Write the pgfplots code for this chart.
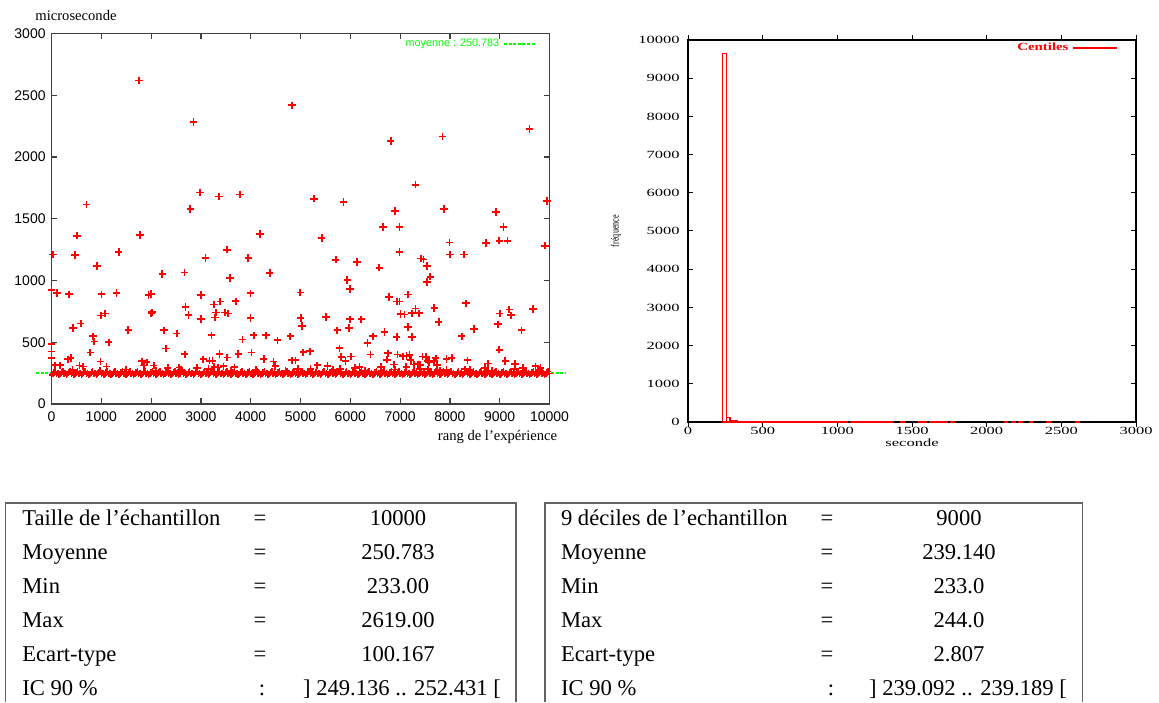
\documentclass[border=0pt]{standalone}
\usepackage{fontspec}
\setmainfont{Liberation Serif}
\setsansfont{Liberation Sans}
\newfontfamily\widefont{Liberation Serif}[FakeStretch=1.5]
\newfontfamily\widebold{Liberation Serif}[FakeStretch=1.35]
\newfontfamily\narrowfont{Liberation Serif}[FakeStretch=0.74]
\usepackage{pgfplots}
\pgfplotsset{compat=1.18}
\definecolor{gred}{RGB}{255,0,0}
\definecolor{ggreen}{RGB}{0,255,0}
\definecolor{boxgray}{RGB}{100,100,100}

\pgfplotstableread{
x y
1757 2619
4833 2419
2854 2284
9600 2227
6813 2130
7850 2165
7309 1776
2980 1713
3788 1697
3366 1681
5271 1662
5864 1635
704 1616
9948 1643
2787 1578
7880 1578
6895 1562
8925 1554
6657 1432
6990 1432
9074 1432
1779 1370
511 1362
4188 1376
5426 1343
8725 1305
7991 1308
8992 1322
9155 1322
9911 1281
30 1211
474 1205
1349 1230
3521 1249
6990 1230
7999 1211
8280 1211
3091 1181
3951 1181
5708 1168
6138 1151
7420 1178
7472 1170
912 1116
7539 1116
2224 1054
2669 1065
4381 1062
3588 1019
6583 1103
7605 1030
7539 989
5938 1003
0 924
111 900
348 889
1001 889
1305 900
1950 881
2002 892
3002 884
3996 897
4996 903
5990 930
6776 868
7161 886
3262 805
3388 830
3699 832
6931 830
6990 830
8325 816
2691 786
7309 773
7687 778
9192 765
9667 768
993 716
1075 732
2002 732
2017 743
3306 741
3484 741
3543 732
2750 722
7005 730
7087 724
7235 735
7383 735
9000 732
9229 719
3284 700
3002 689
3996 695
5004 695
5508 705
5997 686
6220 686
7776 665
586 651
8962 646
5026 630
7161 624
430 614
1542 600
2261 597
5738 597
5975 614
6687 584
8480 608
9437 597
2513 570
3210 557
830 549
4307 557
4062 557
4796 549
6457 549
6931 541
7235 543
8236 549
860 505
1149 500
3833 522
4537 516
6346 495
0 486
8992 440
2298 449
5782 451
0 424
778 416
4018 416
5056 419
5189 427
6753 411
2676 403
3373 405
3751 405
6405 400
6950 400
0 370
334 362
385 373
4262 365
3047 362
3529 376
5819 381
6012 384
7057 386
7131 389
7190 397
7450 384
7524 381
7716 370
7932 365
8036 373
8354 354
6735 359
3173 351
3232 351
986 343
1816 346
1913 338
4455 343
4826 354
4900 354
5901 349
7561 351
7583 341
7680 351
9111 349
7212 357
6880 319
7353 322
8762 327
9311 324
74 313
170 313
564 311
638 303
1105 303
1861 311
2054 311
2335 292
2565 295
2921 292
3269 300
3343 295
3454 305
3677 297
4492 308
4952 284
5337 313
5545 308
5790 284
6094 292
6183 300
6620 300
7124 300
7279 319
7405 316
7739 316
8703 292
9467 292
9719 305
9822 292
8303 281
7932 276
7561 281
420 275
980 272
1500 280
2100 270
2600 278
3150 285
3600 272
4100 276
4700 270
5200 282
5650 275
6300 271
6900 279
7400 284
7800 273
8400 277
8850 270
9300 281
9800 274
}\outliers

\pgfplotstableread{
x y
0 236
50 258
100 246
150 236
200 258
250 246
300 236
350 258
400 246
450 236
500 258
550 246
600 236
650 258
700 246
750 236
800 258
850 246
900 236
950 258
1000 246
1050 236
1100 258
1150 246
1200 236
1250 258
1300 246
1350 236
1400 258
1450 246
1500 236
1550 258
1600 246
1650 236
1700 258
1750 246
1800 236
1850 258
1900 246
1950 236
2000 258
2050 246
2100 236
2150 258
2200 246
2250 236
2300 258
2350 246
2400 236
2450 258
2500 246
2550 236
2600 258
2650 246
2700 236
2750 258
2800 246
2850 236
2900 258
2950 246
3000 236
3050 258
3100 246
3150 236
3200 258
3250 246
3300 236
3350 258
3400 246
3450 236
3500 258
3550 246
3600 236
3650 258
3700 246
3750 236
3800 258
3850 246
3900 236
3950 258
4000 246
4050 236
4100 258
4150 246
4200 236
4250 258
4300 246
4350 236
4400 258
4450 246
4500 236
4550 258
4600 246
4650 236
4700 258
4750 246
4800 236
4850 258
4900 246
4950 236
5000 258
5050 246
5100 236
5150 258
5200 246
5250 236
5300 258
5350 246
5400 236
5450 258
5500 246
5550 236
5600 258
5650 246
5700 236
5750 258
5800 246
5850 236
5900 258
5950 246
6000 236
6050 258
6100 246
6150 236
6200 258
6250 246
6300 236
6350 258
6400 246
6450 236
6500 258
6550 246
6600 236
6650 258
6700 246
6750 236
6800 258
6850 246
6900 236
6950 258
7000 246
7050 236
7100 258
7150 246
7200 236
7250 258
7300 246
7350 236
7400 258
7450 246
7500 236
7550 258
7600 246
7650 236
7700 258
7750 246
7800 236
7850 258
7900 246
7950 236
8000 258
8050 246
8100 236
8150 258
8200 246
8250 236
8300 258
8350 246
8400 236
8450 258
8500 246
8550 236
8600 258
8650 246
8700 236
8750 258
8800 246
8850 236
8900 258
8950 246
9000 236
9050 258
9100 246
9150 236
9200 258
9250 246
9300 236
9350 258
9400 246
9450 236
9500 258
9550 246
9600 236
9650 258
9700 246
9750 236
9800 258
9850 246
9900 236
9950 258
10000 246
}\band

\pgfplotstableread{
x y
244.93 9650
268.79 110
292.65 38
316.51 30
340.37 22
364.23 16
388.09 12
411.95 8
435.81 6
459.67 4
483.53 3
507.39 4
531.25 3
555.11 4
578.97 3
602.83 4
626.69 3
650.55 3
674.41 2
698.27 4
722.13 5
745.99 3
769.85 3
793.71 3
817.57 3
841.43 3
865.29 2
889.15 5
913.01 2
936.87 2
960.73 1
984.59 2
1008.45 3
1032.31 2
1056.17 4
1103.89 2
1127.75 1
1151.61 2
1175.47 3
1199.33 2
1223.19 4
1247.05 1
1270.91 1
1294.77 2
1318.63 3
1342.49 1
1366.35 3
1437.93 3
1557.23 2
1581.09 2
1628.81 1
1652.67 2
1676.53 1
1700.39 2
1724.25 1
1771.97 1
2129.87 1
2177.59 1
2225.31 1
2296.89 1
2416.19 1
2607.07 1
}\hist

\begin{document}
\begin{tikzpicture}
\useasboundingbox (0,0) rectangle (579.5pt,351pt);

% ---------------- left scatter plot ----------------
\begin{axis}[
  at={(25.75pt,149pt)}, anchor=south west, scale only axis,
  width=249pt, height=185.25pt,
  xmin=0, xmax=10000, ymin=0, ymax=3000,
  xtick={0,1000,...,10000}, ytick={0,500,...,3000},
  scaled ticks=false,
  tick align=inside, major tick length=2.8pt,
  axis line style={black!75, line width=0.6pt},
  tick style={black!75, line width=0.6pt},
  /pgf/number format/1000 sep={},
  /pgf/number format/assume math mode=true,
  ticklabel style={font=\fontsize{7}{8}\selectfont\sffamily, inner sep=0pt},
  yticklabel style={xshift=-2.75pt},
  xticklabel style={yshift=-3.5pt},
  clip=false,
  legend plot pos=right,
  legend style={draw=none, fill=none, inner sep=0pt, text=ggreen,
    at={(rel axis cs:0.975,0.972)}, anchor=east,
    font=\fontsize{5.4}{6}\selectfont\sffamily},
]
\addplot[only marks, mark=+, mark size=1.5pt, draw=gred, mark options={draw=gred, solid}, line width=0.8pt, forget plot]
  table[x=x,y=y] {\band};
\addplot[only marks, mark=+, mark size=1.5pt, draw=gred, mark options={draw=gred, solid}, line width=0.8pt, forget plot]
  coordinates {
(25,244)(75,264)(125,252)(175,244)(225,264)(275,252)(325,244)(375,264)(425,252)(475,244)(525,264)(575,252)
(625,244)(675,264)(725,252)(775,244)(825,264)(875,252)(925,244)(975,264)(1025,252)(1075,244)(1125,264)(1175,252)
(1225,244)(1275,264)(1325,252)(1375,244)(1425,264)(1475,252)(1525,244)(1575,264)(1625,252)(1675,244)(1725,264)(1775,252)
(1825,244)(1875,264)(1925,252)(1975,244)(2025,264)(2075,252)(2125,244)(2175,264)(2225,252)(2275,244)(2325,264)(2375,252)
(2425,244)(2475,264)(2525,252)(2575,244)(2625,264)(2675,252)(2725,244)(2775,264)(2825,252)(2875,244)(2925,264)(2975,252)
(3025,244)(3075,264)(3125,252)(3175,244)(3225,264)(3275,252)(3325,244)(3375,264)(3425,252)(3475,244)(3525,264)(3575,252)
(3625,244)(3675,264)(3725,252)(3775,244)(3825,264)(3875,252)(3925,244)(3975,264)(4025,252)(4075,244)(4125,264)(4175,252)
(4225,244)(4275,264)(4325,252)(4375,244)(4425,264)(4475,252)(4525,244)(4575,264)(4625,252)(4675,244)(4725,264)(4775,252)
(4825,244)(4875,264)(4925,252)(4975,244)(5025,264)(5075,252)(5125,244)(5175,264)(5225,252)(5275,244)(5325,264)(5375,252)
(5425,244)(5475,264)(5525,252)(5575,244)(5625,264)(5675,252)(5725,244)(5775,264)(5825,252)(5875,244)(5925,264)(5975,252)
(6025,244)(6075,264)(6125,252)(6175,244)(6225,264)(6275,252)(6325,244)(6375,264)(6425,252)(6475,244)(6525,264)(6575,252)
(6625,244)(6675,264)(6725,252)(6775,244)(6825,264)(6875,252)(6925,244)(6975,264)(7025,252)(7075,244)(7125,264)(7175,252)
(7225,244)(7275,264)(7325,252)(7375,244)(7425,264)(7475,252)(7525,244)(7575,264)(7625,252)(7675,244)(7725,264)(7775,252)
(7825,244)(7875,264)(7925,252)(7975,244)(8025,264)(8075,252)(8125,244)(8175,264)(8225,252)(8275,244)(8325,264)(8375,252)
(8425,244)(8475,264)(8525,252)(8575,244)(8625,264)(8675,252)(8725,244)(8775,264)(8825,252)(8875,244)(8925,264)(8975,252)
(9025,244)(9075,264)(9125,252)(9175,244)(9225,264)(9275,252)(9325,244)(9375,264)(9425,252)(9475,244)(9525,264)(9575,252)
(9625,244)(9675,264)(9725,252)(9775,244)(9825,264)(9875,252)(9925,244)(9975,264)
};
\addplot[ggreen, line width=0.75pt, dash pattern=on 1.5pt off 0.8pt,
  legend image code/.code={\draw[ggreen, line width=0.75pt, dash pattern=on 1.5pt off 0.8pt] (0pt,0pt) -- (16pt,0pt);}]
  coordinates {(-310,250.783) (10320,250.783)};
\addlegendentry{moyenne : 250.783}
\addplot[only marks, mark=+, mark size=1.85pt, draw=gred, mark options={draw=gred, solid}, line width=0.85pt, forget plot]
  table[x=x,y=y] {\outliers};
\end{axis}

\node[font=\fontsize{7.3}{8}\selectfont] at (38pt,343pt) {microseconde};
\node[font=\fontsize{7.3}{8}\selectfont] at (248.75pt,132.5pt) {rang de l’expérience};

% ---------------- right histogram ----------------
\begin{axis}[
  at={(344pt,140pt)}, anchor=south west, scale only axis,
  width=224pt, height=191pt,
  xmin=0, xmax=3000, ymin=0, ymax=10000,
  xtick={0,500,...,3000}, ytick={0,1000,...,10000},
  scaled ticks=false,
  tick align=inside, major tick length=2.5pt,
  axis line style={black, line width=0.75pt},
  tick style={black, line width=0.5pt},
  /pgf/number format/1000 sep={},
  /pgf/number format/assume math mode=true,
  ticklabel style={font=\fontsize{5.5}{6}\widefont, inner sep=0pt},
  yticklabel style={xshift=-4pt},
  xticklabel style={yshift=0.2pt},
  ybar, bar width=23.86, bar shift=0pt,
  legend plot pos=right,
  legend style={draw=none, fill=none, inner sep=0pt, text=gred,
    at={(rel axis cs:0.96,0.979)}, anchor=east,
    font=\fontsize{5.5}{6}\widebold\bfseries},
]
\addplot[draw=gred, fill=none, line width=0.6pt,
  legend image code/.code={\draw[gred, line width=0.6pt] (0pt,0pt) -- (22pt,0pt);}]
  table[x=x,y=y] {\hist};
\addlegendentry{Centiles}
\end{axis}

\node[font=\fontsize{5.5}{6}\widefont] at (456pt,129.5pt) {seconde};
\node[font=\fontsize{5.5}{6}\narrowfont, rotate=90] at (308pt,235.5pt) {fréquence};

% ---------------- tables ----------------
\draw[boxgray, line width=0.7pt] (2.8pt,0pt) -- (2.8pt,99.5pt) -- (258pt,99.5pt) -- (258pt,0pt);
\draw[boxgray, line width=0.7pt] (272.4pt,0pt) -- (272.4pt,99.5pt) -- (541.2pt,99.5pt) -- (541.2pt,0pt);

\begin{scope}[every node/.style={font=\fontsize{11.3}{13}\selectfont, inner sep=0pt}]
\node[anchor=base west] at (11pt,88.5pt) {Taille de l’échantillon};
\node[anchor=base west] at (11pt,71.5pt) {Moyenne};
\node[anchor=base west] at (11pt,54.5pt) {Min};
\node[anchor=base west] at (11pt,37.5pt) {Max};
\node[anchor=base west] at (11pt,20.5pt) {Ecart-type};
\node[anchor=base west] at (11pt,3.5pt) {IC 90 \%};
\node[anchor=base] at (130pt,88.5pt) {=};
\node[anchor=base] at (130pt,71.5pt) {=};
\node[anchor=base] at (130pt,54.5pt) {=};
\node[anchor=base] at (130pt,37.5pt) {=};
\node[anchor=base] at (130pt,20.5pt) {=};
\node[anchor=base] at (131pt,3.5pt) {:};
\node[anchor=base] at (199pt,88.5pt) {10000};
\node[anchor=base] at (199pt,71.5pt) {250.783};
\node[anchor=base] at (199pt,54.5pt) {233.00};
\node[anchor=base] at (199pt,37.5pt) {2619.00};
\node[anchor=base] at (199pt,20.5pt) {100.167};
\node[anchor=base] at (201pt,3.5pt) {] 249.136 .. 252.431 [};

\node[anchor=base west] at (280.3pt,88.5pt) {9 déciles de l’echantillon};
\node[anchor=base west] at (280.3pt,71.5pt) {Moyenne};
\node[anchor=base west] at (280.3pt,54.5pt) {Min};
\node[anchor=base west] at (280.3pt,37.5pt) {Max};
\node[anchor=base west] at (280.3pt,20.5pt) {Ecart-type};
\node[anchor=base west] at (280.3pt,3.5pt) {IC 90 \%};
\node[anchor=base] at (413.5pt,88.5pt) {=};
\node[anchor=base] at (413.5pt,71.5pt) {=};
\node[anchor=base] at (413.5pt,54.5pt) {=};
\node[anchor=base] at (413.5pt,37.5pt) {=};
\node[anchor=base] at (413.5pt,20.5pt) {=};
\node[anchor=base] at (415.5pt,3.5pt) {:};
\node[anchor=base] at (479.5pt,88.5pt) {9000};
\node[anchor=base] at (479.5pt,71.5pt) {239.140};
\node[anchor=base] at (479.5pt,54.5pt) {233.0};
\node[anchor=base] at (479.5pt,37.5pt) {244.0};
\node[anchor=base] at (479.5pt,20.5pt) {2.807};
\node[anchor=base] at (484pt,3.5pt) {] 239.092 .. 239.189 [};
\end{scope}
\end{tikzpicture}
\end{document}
